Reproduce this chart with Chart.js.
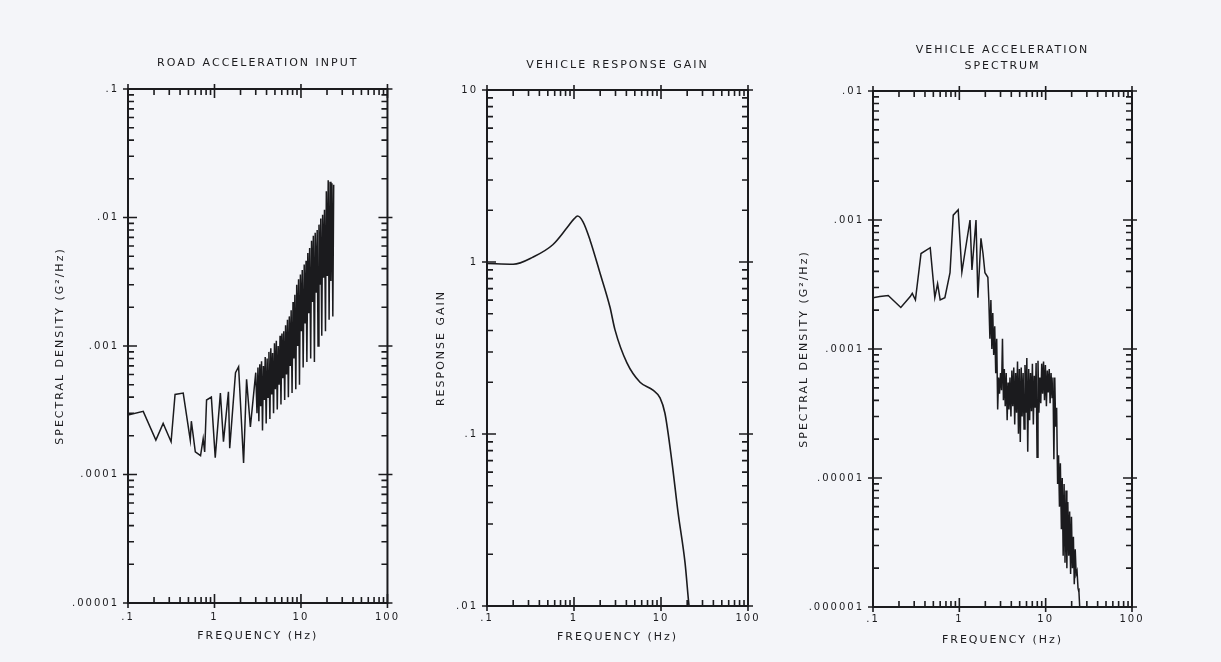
<!DOCTYPE html>
<html>
<head>
<meta charset="utf-8">
<script src="https://cdn.jsdelivr.net/npm/chart.js@4.4.1/dist/chart.umd.min.js"></script>
<style>
  html, body { margin: 0; padding: 0; background: #f4f5f9; }
  body { width: 1221px; height: 662px; position: relative; overflow: hidden; }
  .panel { position: absolute; top: 0; height: 662px; }
</style>
</head>
<body>
<div class="panel" style="left:0;width:408px"><canvas id="roadChart"></canvas></div>
<div class="panel" style="left:400px;width:390px"><canvas id="gainChart"></canvas></div>
<div class="panel" style="left:790px;width:431px"><canvas id="vehicleChart"></canvas></div>
<script>
const INK = '#1b1b1e';
const FONT = "'DejaVu Sans', sans-serif";

// frequency axis, same on all three plots
const freqDecades = [0.1, 1, 10, 100];
const freqLabels = ['.1', '1', '10', '100'];

// road acceleration input
const roadFreq = [
  0.1, 0.15, 0.21, 0.255, 0.315, 0.35, 0.435, 0.525, 0.54, 0.6,
  0.69, 0.74, 0.77, 0.81, 0.92, 1.02, 1.17, 1.27, 1.45, 1.5,
  1.75, 1.9, 2.17, 2.35, 2.6, 3.0,
  3.1, 3.18, 3.26, 3.34, 3.42, 3.5, 3.59, 3.68, 3.77, 3.86,
  3.96, 4.06, 4.16, 4.26, 4.37, 4.48, 4.59, 4.7, 4.82, 4.94,
  5.06, 5.19, 5.32, 5.45, 5.59, 5.73, 5.87, 6.02, 6.17, 6.32,
  6.48, 6.64, 6.81, 6.98, 7.15, 7.33, 7.51, 7.7, 7.89, 8.09,
  8.29, 8.5, 8.71, 8.93, 9.15, 9.38, 9.61, 9.85, 10.1, 10.35,
  10.6, 10.9, 11.15, 11.45, 11.7, 12.0, 12.3, 12.6, 12.95, 13.25,
  13.6, 13.9, 14.3, 14.6, 15.0, 15.4, 15.75, 16.15, 16.55, 16.95,
  17.4, 17.8, 18.25, 18.7, 19.2, 19.65, 20.15, 20.65, 21.15, 21.7,
  22.2, 22.8, 23.35, 23.9
];
const roadPsd = [
  2.9e-4, 3.1e-4, 1.85e-4, 2.5e-4, 1.8e-4, 4.2e-4, 4.3e-4, 1.85e-4, 2.6e-4, 1.5e-4,
  1.4e-4, 1.9e-4, 1.5e-4, 3.8e-4, 4.0e-4, 1.35e-4, 4.3e-4, 1.8e-4, 4.4e-4, 1.6e-4,
  6.2e-4, 6.9e-4, 1.23e-4, 5.5e-4, 2.35e-4, 6.2e-4,
  3.0e-4, 6.8e-4, 2.6e-4, 7.2e-4, 3.4e-4, 7.6e-4, 2.2e-4, 7.0e-4, 3.8e-4, 8.2e-4,
  2.5e-4, 8.0e-4, 4.0e-4, 9.0e-4, 2.7e-4, 9.6e-4, 4.2e-4, 8.8e-4, 3.0e-4, 1.05e-3,
  4.6e-4, 1.1e-3, 3.2e-4, 1.0e-3, 5.0e-4, 1.2e-3, 3.5e-4, 1.25e-3, 5.6e-4, 1.3e-3,
  3.8e-4, 1.45e-3, 6.0e-4, 1.6e-3, 4.0e-4, 1.7e-3, 7.0e-4, 1.9e-3, 4.3e-4, 2.2e-3,
  8.0e-4, 2.5e-3, 4.6e-4, 3.0e-3, 1.0e-3, 3.3e-3, 5.0e-4, 3.6e-3, 1.3e-3, 3.9e-3,
  6.8e-4, 4.3e-3, 1.5e-3, 4.6e-3, 7.5e-4, 5.3e-3, 1.8e-3, 5.8e-3, 8.0e-4, 6.6e-3,
  2.2e-3, 7.2e-3, 7.5e-4, 7.6e-3, 2.6e-3, 8.0e-3, 1.0e-3, 8.8e-3, 3.0e-3, 9.8e-3,
  1.2e-3, 1.05e-2, 3.4e-3, 1.15e-2, 1.3e-3, 1.6e-2, 3.5e-3, 1.95e-2, 1.6e-3, 1.9e-2,
  3.2e-3, 1.85e-2, 1.7e-3, 1.8e-2
];
const roadDecades = [0.00001, 0.0001, 0.001, 0.01, 0.1];
const roadLabels = ['.00001', '.0001', '.001', '.01', '.1'];

// vehicle response gain
const gainFreq = [0.1, 0.2, 0.34, 0.57, 0.83, 1.0, 1.1, 1.27, 1.53, 1.99, 2.59, 2.96,
  4.06, 5.74, 8.09, 9.75, 11.1, 13.4, 15.7, 18.9, 21.0, 23.0];
const gainValue = [0.98, 0.97, 1.07, 1.26, 1.58, 1.78, 1.85, 1.71, 1.34, 0.863, 0.547, 0.403,
  0.259, 0.200, 0.180, 0.162, 0.132, 0.068, 0.035, 0.0178, 0.0100, 0.007];
const gainDecades = [0.01, 0.1, 1, 10];
const gainLabels = ['.01', '.1', '1', '10'];

// vehicle acceleration spectrum
const vehFreq = [
  0.1, 0.12, 0.15, 0.21, 0.27, 0.285, 0.31, 0.36, 0.46, 0.52,
  0.56, 0.6, 0.68, 0.78, 0.85, 0.97, 1.07, 1.33, 1.4, 1.56,
  1.64, 1.78, 1.88, 1.98, 2.14,
  2.2, 2.26, 2.32, 2.38, 2.44, 2.5, 2.57, 2.64, 2.71, 2.78,
  2.85, 2.92, 3.0, 3.08, 3.16, 3.24, 3.32, 3.4, 3.49, 3.58,
  3.67, 3.76, 3.86, 3.96, 4.06, 4.16, 4.27, 4.38, 4.49, 4.6,
  4.72, 4.84, 4.96, 5.08, 5.21, 5.34, 5.48, 5.62, 5.76, 5.9,
  6.05, 6.2, 6.36, 6.52, 6.68, 6.85, 7.02, 7.2, 7.38, 7.56,
  7.75, 7.95, 8.15, 8.35, 8.56, 8.78, 9.0, 9.22, 9.45, 9.69,
  9.93, 10.2, 10.45, 10.7, 11.0, 11.25, 11.55, 11.85, 12.15, 12.45,
  12.75, 13.05,
  13.4, 13.75, 14.1, 14.45, 14.8, 15.2, 15.55, 15.95, 16.35, 16.75,
  17.2, 17.6, 18.05, 18.5, 18.95, 19.45, 19.9, 20.4, 20.95, 21.45,
  22.0, 22.55, 23.1, 23.7, 24.3, 25.0
];
const vehPsd = [
  2.5e-4, 2.55e-4, 2.6e-4, 2.1e-4, 2.55e-4, 2.7e-4, 2.4e-4, 5.5e-4, 6.1e-4, 2.5e-4,
  3.2e-4, 2.4e-4, 2.5e-4, 3.9e-4, 1.09e-3, 1.2e-3, 3.95e-4, 1.0e-3, 4.1e-4, 1.0e-3,
  2.5e-4, 7.2e-4, 5.5e-4, 3.9e-4, 3.6e-4,
  2.3e-4, 1.2e-4, 2.4e-4, 1.0e-4, 1.9e-4, 9.0e-5, 1.5e-4, 6.5e-5, 1.2e-4, 3.4e-5,
  6.0e-5, 4.5e-5, 6.5e-5, 4.8e-5, 1.2e-4, 4.0e-5, 7.0e-5, 3.6e-5, 6.5e-5, 2.8e-5,
  5.5e-5, 3.4e-5, 6.0e-5, 3.0e-5, 6.8e-5, 3.6e-5, 7.2e-5, 2.6e-5, 6.5e-5, 3.2e-5,
  8.0e-5, 2.2e-5, 7.0e-5, 1.9e-5, 7.2e-5, 3.0e-5, 6.5e-5, 2.4e-5, 7.5e-5, 3.2e-5,
  8.5e-5, 1.6e-5, 7.0e-5, 2.8e-5, 6.5e-5, 3.3e-5, 7.7e-5, 2.6e-5, 6.2e-5, 3.5e-5,
  7.8e-5, 1.45e-5, 8.1e-5, 3.2e-5, 6.0e-5, 3.8e-5, 7.7e-5, 4.5e-5, 8.0e-5, 4.0e-5,
  7.5e-5, 3.6e-5, 6.8e-5, 4.6e-5, 7.0e-5, 3.8e-5, 6.5e-5, 4.2e-5, 6.0e-5, 1.4e-5,
  6.0e-5, 2.5e-5,
  3.5e-5, 9.0e-6, 1.5e-5, 6.0e-6, 1.3e-5, 4.0e-6, 1.0e-5, 2.5e-6, 9.0e-6, 2.2e-6,
  8.0e-6, 2.0e-6, 6.5e-6, 2.5e-6, 5.5e-6, 1.8e-6, 5.0e-6, 2.0e-6, 3.5e-6, 1.5e-6,
  2.8e-6, 1.8e-6, 1.9e-6, 1.4e-6, 1.3e-6, 9.0e-7
];
const vehDecades = [0.000001, 0.00001, 0.0001, 0.001, 0.01];
const vehLabels = ['.000001', '.00001', '.0001', '.001', '.01'];

// 1..9 in every decade, decades flagged as major
function logTicks(decades) {
  const ticks = [];
  decades.forEach((d, i) => {
    ticks.push({ value: d, major: true });
    if (i < decades.length - 1) {
      for (let k = 2; k <= 9; k++) ticks.push({ value: k * d, major: false });
    }
  });
  return ticks;
}

function logAxis(decades, labels, o) {
  return {
    type: 'logarithmic',
    min: decades[0],
    max: decades[decades.length - 1],
    grid: { display: false, drawTicks: false },
    border: { display: false },
    afterBuildTicks: s => { s.ticks = logTicks(decades); },
    afterFit: s => {
      if (o.width) s.width = o.width;
      if (o.height) s.height = o.height;
    },
    ticks: {
      autoSkip: false,
      maxRotation: 0,
      padding: o.pad,
      color: INK,
      font: { family: FONT, size: 10 },
      callback: v => {
        const i = decades.indexOf(v);
        return i >= 0 ? labels[i] : '';
      }
    },
    title: {
      display: true,
      text: o.title,
      color: INK,
      font: { family: FONT, size: 11 },
      padding: o.titlePad
    }
  };
}

// box round the plot, ticks pointing inwards on all four sides
const frameTicks = {
  id: 'frameTicks',
  beforeLayout(chart) { chart.ctx.letterSpacing = '2px'; },
  beforeDraw(chart) { chart.ctx.letterSpacing = '2px'; },
  afterDraw(chart) {
    const { ctx, chartArea: a, scales: { x, y } } = chart;
    ctx.save();
    ctx.strokeStyle = INK;
    ctx.lineWidth = 1.6;
    ctx.beginPath();
    x.ticks.forEach(t => {
      const px = x.getPixelForValue(t.value);
      const inner = t.major ? 9 : 6, outer = t.major ? 5 : 0;
      ctx.moveTo(px, a.bottom + outer); ctx.lineTo(px, a.bottom - inner);
      ctx.moveTo(px, a.top - outer); ctx.lineTo(px, a.top + inner);
    });
    y.ticks.forEach(t => {
      const py = y.getPixelForValue(t.value);
      const inner = t.major ? 9 : 6, outer = t.major ? 5 : 0;
      ctx.moveTo(a.left - outer, py); ctx.lineTo(a.left + inner, py);
      ctx.moveTo(a.right + outer, py); ctx.lineTo(a.right - inner, py);
    });
    ctx.stroke();
    ctx.lineWidth = 2;
    ctx.strokeRect(a.left, a.top, a.right - a.left, a.bottom - a.top);
    ctx.restore();
  }
};

function panel(id, cfg) {
  new Chart(document.getElementById(id), {
    type: 'line',
    data: {
      datasets: [{
        data: cfg.freq.map((f, i) => ({ x: f, y: cfg.values[i] })),
        borderColor: INK,
        borderWidth: cfg.lineWidth,
        pointRadius: 0,
        fill: false,
        tension: cfg.smooth ? 0.4 : 0,
        cubicInterpolationMode: cfg.smooth ? 'monotone' : 'default'
      }]
    },
    options: {
      responsive: true,
      maintainAspectRatio: false,
      animation: false,
      layout: { padding: cfg.padding },
      plugins: {
        legend: { display: false },
        tooltip: { enabled: false },
        title: {
          display: true,
          text: cfg.title,
          fullSize: false,
          color: INK,
          font: { family: FONT, size: 11, lineHeight: 1.5, weight: 'normal' },
          padding: cfg.titlePad
        }
      },
      scales: {
        x: logAxis(freqDecades, freqLabels, {
          height: cfg.xHeight, pad: cfg.xPad, title: 'FREQUENCY (Hz)', titlePad: { top: 0, bottom: cfg.xTitlePad }
        }),
        y: logAxis(cfg.decades, cfg.labels, {
          width: cfg.yWidth, pad: 9, title: cfg.yTitle, titlePad: { top: 0, bottom: 0 }
        })
      }
    },
    plugins: [frameTicks]
  });
}

panel('roadChart', {
  freq: roadFreq, values: roadPsd, decades: roadDecades, labels: roadLabels,
  title: 'ROAD ACCELERATION INPUT', yTitle: 'SPECTRAL DENSITY (G²/Hz)',
  lineWidth: 1.5, smooth: false,
  padding: { left: 54, right: 13, top: 0, bottom: 0 },
  titlePad: { top: 54.75, bottom: 17.75 },
  yWidth: 74, xHeight: 59, xPad: 8, xTitlePad: 19
});

panel('gainChart', {
  freq: gainFreq, values: gainValue, decades: gainDecades, labels: gainLabels,
  title: 'VEHICLE RESPONSE GAIN', yTitle: 'RESPONSE GAIN',
  lineWidth: 1.6, smooth: true,
  padding: { left: 35, right: 42, top: 0, bottom: 0 },
  titlePad: { top: 56.75, bottom: 16.75 },
  yWidth: 52, xHeight: 56, xPad: 6, xTitlePad: 18
});

panel('vehicleChart', {
  freq: vehFreq, values: vehPsd, decades: vehDecades, labels: vehLabels,
  title: ['VEHICLE ACCELERATION', 'SPECTRUM'], yTitle: 'SPECTRAL DENSITY (G²/Hz)',
  lineWidth: 1.5, smooth: false,
  padding: { left: 8, right: 89, top: 0, bottom: 0 },
  titlePad: { top: 41.75, bottom: 16.25 },
  yWidth: 75, xHeight: 55, xPad: 6, xTitlePad: 15
});
</script>
</body>
</html>
